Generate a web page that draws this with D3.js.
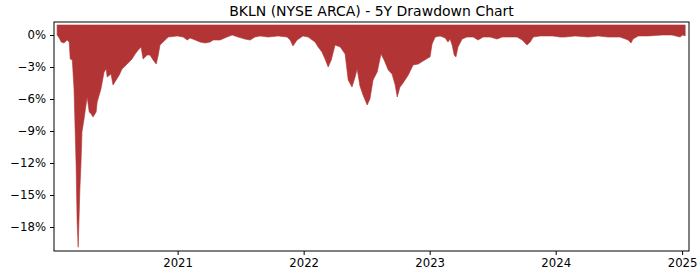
<!DOCTYPE html>
<html>
<head>
<meta charset="utf-8">
<script src="https://cdn.jsdelivr.net/npm/d3@7"></script>
<style>
body{margin:0;background:#fff;}
.chart text{font-family:"DejaVu Sans",sans-serif;fill:#000;}
</style>
</head>
<body>
<svg class="chart"></svg>
<script>
// drawdown readings (date, % below previous high)
const dates=["2020-01-18","2020-01-24","2020-01-30","2020-02-07","2020-02-16","2020-02-22","2020-02-25","2020-03-02","2020-03-07","2020-03-13",
"2020-03-16","2020-03-19","2020-03-24","2020-03-27","2020-03-30","2020-04-05","2020-04-14","2020-04-20","2020-04-26","2020-05-01",
"2020-05-10","2020-05-13","2020-05-24","2020-06-02","2020-06-08","2020-06-11","2020-06-22","2020-06-28","2020-07-07","2020-07-16",
"2020-07-24","2020-08-08","2020-08-22","2020-08-31","2020-09-09","2020-09-17","2020-09-23","2020-10-05","2020-10-13","2020-10-22",
"2020-10-31","2020-11-06","2020-11-11","2020-11-20","2020-12-05","2020-12-31","2021-01-17","2021-01-29","2021-02-06","2021-02-21",
"2021-03-07","2021-03-22","2021-04-05","2021-04-14","2021-05-04","2021-05-24","2021-06-08","2021-06-25","2021-07-15","2021-07-30",
"2021-08-13","2021-08-28","2021-09-20","2021-10-19","2021-11-14","2021-11-23","2021-12-01","2021-12-13","2021-12-30","2022-01-14",
"2022-01-26","2022-02-03","2022-02-12","2022-02-23","2022-03-04","2022-03-13","2022-03-22","2022-04-02","2022-04-17","2022-05-01",
"2022-05-10","2022-05-21","2022-05-30","2022-06-05","2022-06-13","2022-06-22","2022-07-04","2022-07-12","2022-07-21","2022-08-02",
"2022-08-13","2022-08-22","2022-09-03","2022-09-14","2022-09-23","2022-09-29","2022-10-07","2022-10-16","2022-10-31","2022-11-14",
"2022-11-29","2022-12-13","2022-12-27","2023-01-02","2023-01-08","2023-01-17","2023-01-31","2023-02-15","2023-02-23","2023-03-01",
"2023-03-07","2023-03-13","2023-03-18","2023-03-24","2023-04-05","2023-04-19","2023-05-07","2023-05-21","2023-06-05","2023-06-25",
"2023-07-15","2023-07-30","2023-08-22","2023-09-11","2023-09-26","2023-10-10","2023-10-19","2023-10-28","2023-11-17","2023-12-07",
"2023-12-24","2024-01-13","2024-01-28","2024-02-26","2024-04-04","2024-05-03","2024-06-01","2024-07-05","2024-07-29","2024-08-06",
"2024-08-12","2024-08-27","2024-09-25","2024-11-04","2024-12-03","2024-12-26","2025-01-03","2025-01-10"];
const drawdown=[0,-0.28,-0.66,-0.75,-0.47,-0.66,-2.25,-2.34,-5.06,-12.19,
-17.53,-19.9,-14.44,-12.19,-9.09,-7.88,-5.81,-7.22,-7.41,-7.69,
-7.22,-6.28,-5.06,-3.47,-3.19,-3.94,-3.66,-4.69,-4.22,-3.75,
-3.19,-2.72,-2.25,-1.78,-1.41,-1.13,-2.25,-1.88,-1.88,-2.34,
-2.72,-1.88,-0.94,-0.66,-0.19,-0.09,-0.19,-0.47,-0.28,-0.47,
-0.66,-0.75,-0.66,-0.47,-0.47,-0.19,0,-0.19,-0.38,-0.47,
-0.19,-0.09,-0.19,-0.09,-0.19,-0.47,-1.03,-0.47,-0.09,-0.19,
-0.47,-0.66,-1.13,-1.59,-2.25,-3.0,-2.34,-0.94,-1.13,-1.78,
-4.22,-4.88,-3.94,-3.19,-4.78,-5.63,-6.56,-6.0,-4.22,-3.47,
-1.78,-2.34,-3.28,-3.66,-4.69,-5.81,-4.88,-4.5,-3.75,-2.81,
-2.72,-2.44,-2.16,-2.06,-0.84,-0.19,-0.09,-0.28,-0.66,-0.38,
-0.94,-1.88,-2.06,-1.13,-0.38,-0.19,-0.19,-0.47,-0.19,-0.19,
-0.38,-0.19,-0.19,-0.19,-0.47,-0.94,-0.66,-0.19,-0.09,-0.09,
-0.09,-0.19,-0.19,-0.09,-0.19,-0.09,-0.19,-0.19,-0.47,-0.75,
-0.38,-0.09,-0.09,0,0,-0.19,0,-0.09];
const yTicks=[0,-3,-6,-9,-12,-15,-18];
const xTicks=["2021-01-01","2022-01-01","2023-01-01","2024-01-01","2025-01-01"];
const title="BKLN (NYSE ARCA) - 5Y Drawdown Chart";
const fillTop=0.94;

const W=700,H=280;
const margin={left:54,top:22,right:11,bottom:29},
	width=W-margin.left-margin.right,
	height=H-margin.top-margin.bottom;
const parse=d3.timeParse("%Y-%m-%d");
const data=dates.map(function(d,i){return {date:parse(d),dd:drawdown[i]};});

const svg=d3.select(".chart").attr("width",W).attr("height",H);
const chart=svg.append("g").attr("transform","translate("+margin.left+","+margin.top+")");

const x=d3.scaleTime()
	.domain([parse("2020-01-09"),parse("2025-01-21")])
	.range([0,width]);
const y=d3.scaleLinear()
	.domain([-20.25,1.22])
	.range([height,0]);

const area=d3.area()
	.x(function(d){return x(d.date);})
	.y0(y(fillTop))
	.y1(function(d){return y(d.dd);});
chart.append("path")
	.datum(data)
	.attr("d",area)
	.style("fill","#b33434")
	.style("stroke","#b33434")
	.style("stroke-width",0.6);

// frame
chart.append("rect")
	.attr("width",width).attr("height",height)
	.style("fill","none").style("stroke","#000").style("stroke-width",1);

const fmt=d3.format(".0f");
const yAxis=d3.axisLeft(y).tickValues(yTicks).tickSize(4).tickPadding(4)
	.tickFormat(function(d){return fmt(d)+"%";});
chart.append("g").call(yAxis)
	.call(function(g){g.select(".domain").remove();})
	.selectAll("text").style("font-size","11.7px");
const xAxis=d3.axisBottom(x).tickValues(xTicks.map(parse)).tickSize(4).tickPadding(4)
	.tickFormat(d3.timeFormat("%Y"));
chart.append("g").attr("transform","translate(0,"+height+")").call(xAxis)
	.call(function(g){g.select(".domain").remove();})
	.selectAll("text").style("font-size","11.7px");
chart.selectAll(".tick line").style("stroke","#000");

svg.append("text")
	.attr("x",margin.left+width/2)
	.attr("y",16)
	.attr("text-anchor","middle")
	.style("font-size","14px")
	.text(title);
</script>
</body>
</html>
